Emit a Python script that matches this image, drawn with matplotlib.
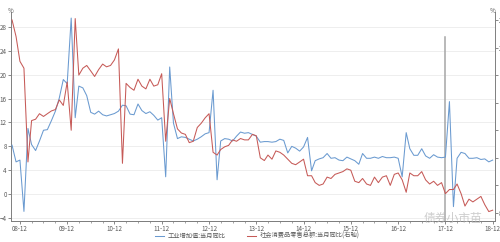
import numpy as np
import pandas as pd
import matplotlib
matplotlib.use("Agg")
import matplotlib.pyplot as plt
import matplotlib.dates as mdates

plt.rcParams['font.family'] = ['Noto Sans CJK SC', 'DejaVu Sans']

# 月度数据 2008-10 ~ 2018-12
months = pd.date_range("2008-10-01", "2018-12-01", freq="MS")

# 工业增加值:当月同比 (左轴)
ip_yoy = [
    8.2, 5.4, 5.7,                                                       # 2008
    -2.9, 11.0, 8.3, 7.3, 8.9, 10.7, 10.8, 12.3, 13.9, 16.1, 19.2, 18.5,  # 2009
    29.5, 12.8, 18.1, 17.8, 16.5, 13.7, 13.4, 13.9, 13.3, 13.1, 13.3, 13.5,  # 2010
    13.9, 14.9, 14.8, 13.4, 13.3, 15.1, 14.0, 13.5, 13.8, 13.2, 12.4, 12.8,  # 2011
    2.9, 21.3, 11.9, 9.3, 9.6, 9.5, 9.2, 8.9, 9.2, 9.6, 10.1, 10.3,       # 2012
    17.4, 2.4, 8.9, 9.3, 9.2, 8.9, 9.7, 10.4, 10.2, 10.3, 10.0, 9.7,      # 2013
    8.7, 8.8, 8.8, 8.7, 8.8, 9.2, 9.0, 6.9, 8.0, 7.7, 7.2, 7.9,          # 2014
    9.5, 3.9, 5.6, 5.9, 6.1, 6.8, 6.0, 6.1, 5.7, 5.6, 6.2, 5.9,          # 2015
    5.6, 5.0, 6.8, 6.0, 6.0, 6.2, 6.0, 6.3, 6.1, 6.1, 6.2, 6.0,          # 2016
    2.9, 10.3, 7.6, 6.5, 6.5, 7.6, 6.4, 6.0, 6.6, 6.2, 6.1, 6.2,         # 2017
    15.5, -2.1, 6.0, 7.0, 6.8, 6.0, 6.0, 6.1, 5.8, 5.9, 5.4, 5.7,        # 2018
]

# 社会消费品零售总额:当月同比 (右轴)
retail_yoy = [
    22.0, 20.8, 19.0,                                                     # 2008
    18.5, 11.7, 14.7, 14.8, 15.2, 15.0, 15.2, 15.4, 15.5, 16.2, 15.8, 17.5,  # 2009
    14.0, 22.1, 18.0, 18.5, 18.7, 18.3, 17.9, 18.4, 18.8, 18.6, 18.7, 19.1,  # 2010
    19.9, 11.6, 17.4, 17.1, 16.9, 17.7, 17.2, 17.0, 17.7, 17.2, 17.3, 18.1,  # 2011
    13.2, 16.3, 15.2, 14.1, 13.8, 13.7, 13.1, 13.2, 14.2, 14.5, 14.9, 15.2,  # 2012
    12.4, 12.2, 12.6, 12.8, 12.9, 13.3, 13.2, 13.4, 13.3, 13.3, 13.7, 13.6,  # 2013
    12.0, 11.8, 12.2, 11.9, 12.5, 12.4, 12.2, 11.9, 11.6, 11.5, 11.7, 11.9,  # 2014
    10.7, 10.7, 10.2, 10.0, 10.1, 10.6, 10.5, 10.8, 10.9, 11.0, 11.2, 11.1,  # 2015
    10.3, 10.2, 10.5, 10.1, 10.0, 10.6, 10.2, 10.6, 10.7, 10.0, 10.8, 10.9,  # 2016
    10.4, 9.5, 10.9, 10.7, 10.7, 11.0, 10.4, 10.1, 10.3, 10.0, 10.2, 9.4,    # 2017
    9.7, 9.7, 10.1, 9.4, 8.5, 9.0, 8.8, 9.0, 9.2, 8.6, 8.1, 8.2,            # 2018
]

tick_dates = pd.date_range("2008-12-01", "2018-12-01", freq="12MS")
tick_labels = [d.strftime("%y-%m") for d in tick_dates]
marker_date = pd.Timestamp("2017-12-01")

blue = "#6a9ad0"
red = "#c65a57"
axis_gray = "#7f7f7f"
text_gray = "#595959"

fig = plt.figure(figsize=(5.0, 2.42), dpi=100)
ax = fig.add_axes([0.022, 0.087, 0.968, 0.863])
ax2 = ax.twinx()

ax.plot(months, ip_yoy, color=blue, lw=0.75, label="工业增加值:当月同比", zorder=3)
ax2.plot(months, retail_yoy, color=red, lw=0.75, label="社会消费品零售总额:当月同比(右轴)")
ax.axvline(marker_date, ymin=0, ymax=0.88, color="#a6a6a6", lw=1.1, zorder=2)

ax.set_xlim(pd.Timestamp("2008-09-23"), pd.Timestamp("2018-12-19"))
ax.set_ylim(-4.5, 30.5)
ax2.set_ylim(7.42, 22.57)
ax.set_yticks(np.arange(-4, 29, 4))
ax2.set_yticks(np.arange(8, 23, 2))
ax.set_xticks(tick_dates)
ax.set_xticklabels(tick_labels)
ax.xaxis.set_minor_locator(mdates.MonthLocator(bymonth=[3, 6, 9]))

ax.yaxis.grid(True, color="#ebebeb", lw=0.6)
ax.set_axisbelow(True)

for a in (ax, ax2):
    a.spines["top"].set_visible(False)
    for s in ("left", "right", "bottom"):
        a.spines[s].set_color(axis_gray)
        a.spines[s].set_linewidth(0.7)
    a.tick_params(labelsize=4.5, colors=text_gray, length=2, width=0.5, pad=1)
    a.tick_params(axis="x", which="minor", length=1.5, width=0.5, colors=axis_gray)
ax2.spines["left"].set_visible(False)
ax.spines["right"].set_visible(False)

ax.text(0.0, 1.005, "%", transform=ax.transAxes, fontsize=4.5, color=text_gray,
        ha="center", va="center")
ax2.text(0.995, 1.005, "%", transform=ax2.transAxes, fontsize=4.5, color=text_gray,
         ha="center", va="center")

# 水印
fig.text(0.905, 0.098, "债券小市苗", fontsize=8.5, color="#b8b8b8", alpha=0.7,
         ha="center", va="center")

h1, l1 = ax.get_legend_handles_labels()
h2, l2 = ax2.get_legend_handles_labels()
fig.legend(h1 + h2, l1 + l2, loc="center", bbox_to_anchor=(0.515, 0.025), ncol=2,
           frameon=False, fontsize=4.5, handlelength=1.4, columnspacing=3.5,
           handletextpad=0.6, labelcolor=text_gray)

fig.savefig("out.png", dpi=100)
